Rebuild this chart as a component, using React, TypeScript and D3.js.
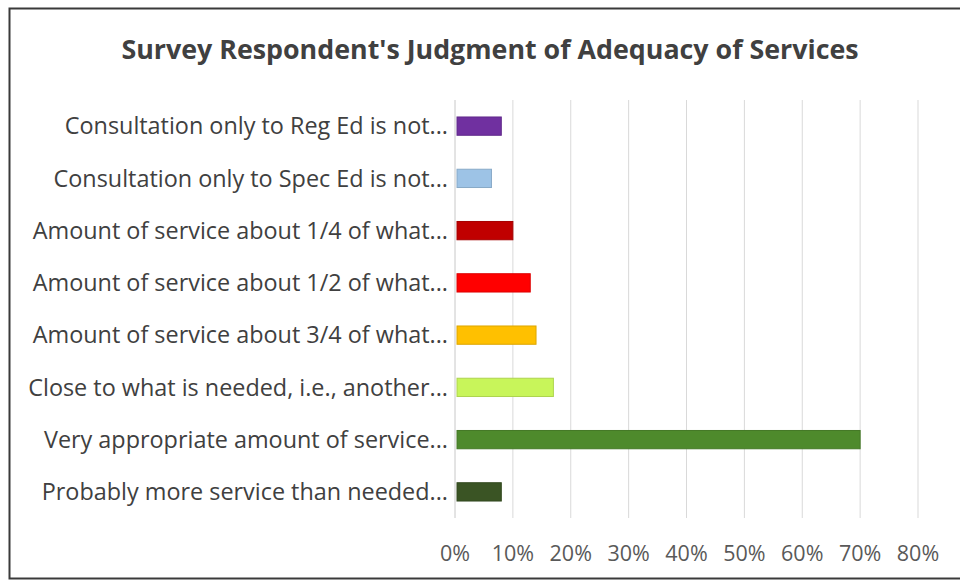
import React from "react";
import * as d3 from "d3";

const categories = [
  "Consultation only to Reg Ed is not...",
  "Consultation only to Spec Ed is not...",
  "Amount of service about 1/4 of what...",
  "Amount of service about 1/2 of what...",
  "Amount of service about 3/4 of what...",
  "Close to what is needed, i.e., another...",
  "Very appropriate amount of service...",
  "Probably more service than needed...",
];
const values = [0.08, 0.063, 0.1, 0.13, 0.14, 0.17, 0.7, 0.08];
const colors = ["#7030A0", "#9DC3E6", "#C00000", "#FF0000", "#FFC000", "#C8F55A", "#4E8A2C", "#3A5424"];
const ticks = [0, 0.1, 0.2, 0.3, 0.4, 0.5, 0.6, 0.7, 0.8];
const title = "Survey Respondent's Judgment of Adequacy of Services";

export default function App() {
  const W = 960, H = 584;
  const x = d3.scaleLinear().domain([0, 0.8]).range([455, 918]);
  const y = d3.scaleBand().domain(categories).range([100, 518]).paddingInner(0.65).paddingOuter(0.325);
  const fmt = d3.format(".0%");
  const font = "'Open Sans', sans-serif";
  return (
    <svg width={W} height={H} style={{ position: "absolute", left: 0, top: 0, background: "#fff" }}>
      <rect x={9.5} y={8.5} width={960} height={570} fill="#fff" stroke="#3a3a3a" strokeWidth={2} />
      <text x={490} y={59} textAnchor="middle" fontFamily={font} fontWeight={700} fontSize={26.8} fill="#404040">{title}</text>
      {ticks.map((t) => (
        <line key={t} x1={x(t)} x2={x(t)} y1={100} y2={518} stroke={t === 0 ? "#c8c8c8" : "#d9d9d9"} strokeWidth={1} />
      ))}
      {categories.map((c, i) => (
        <g key={c}>
          <rect x={x(0) + 2} y={y(c)!} width={x(values[i]) - x(0) - 2} height={y.bandwidth()} fill={colors[i]} stroke={d3.color(colors[i])!.darker(0.4).toString()} strokeWidth={1} />
          <text x={448} y={y(c)! + y.bandwidth() / 2} dy="0.35em" textAnchor="end" fontFamily={font} fontSize={23.4} fill="#404040">{c}</text>
        </g>
      ))}
      {ticks.map((t) => (
        <text key={"l" + t} x={x(t)} y={553} dy="0.35em" textAnchor="middle" fontFamily={font} fontSize={21.5} fill="#595959">{fmt(t)}</text>
      ))}
    </svg>
  );
}
